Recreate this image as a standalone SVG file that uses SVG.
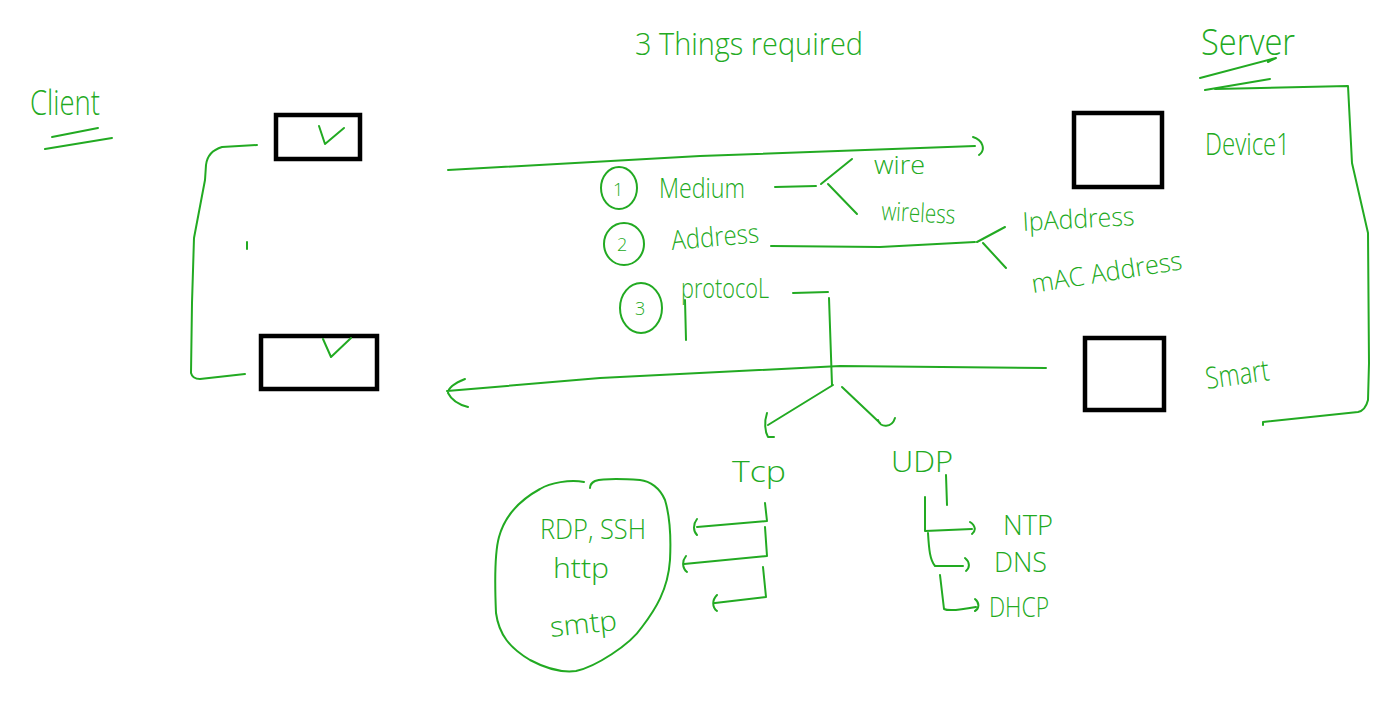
<svg xmlns="http://www.w3.org/2000/svg" width="1399" height="723" viewBox="0 0 1399 723">
<style>
.g{fill:none;stroke:#22aa22;stroke-width:2;stroke-linecap:round;stroke-linejoin:round}
.box{fill:#fff;stroke:#000;stroke-width:4.5}
.t{fill:#22aa22;font-family:"Open Sans","Liberation Sans",sans-serif;font-weight:300}
</style>
<rect width="1399" height="723" fill="#fff"/>
<g id="title"><text class="t" x="635" y="55" font-size="32" textLength="228" lengthAdjust="spacingAndGlyphs">3 Things required</text></g>
<g id="client">
<text class="t" x="30" y="115" font-size="34" textLength="70" lengthAdjust="spacingAndGlyphs">Client</text>
<path class="g" d="M52 137 L98 128 M45 149 L112 138"/>
</g>
<g id="client-box1"><rect class="box" x="276" y="115" width="84" height="44"/><path class="g" d="M319 126 L325 144 L344 128"/></g>
<g id="client-box2"><rect class="box" x="261" y="336" width="116" height="53"/><path class="g" d="M323 339 L331 357 L351 338"/></g>
<g id="server">
<text class="t" x="1201" y="55" font-size="36" textLength="94" lengthAdjust="spacingAndGlyphs">Server</text>
<path class="g" d="M1200 78 L1276 58 L1268 62 M1205 90 L1270 79"/>
</g>
<g id="device1"><rect class="box" x="1074" y="113" width="88" height="74"/><text class="t" x="1205" y="155" font-size="32" textLength="85" lengthAdjust="spacingAndGlyphs">Device1</text></g>
<g id="smart"><rect class="box" x="1085" y="338" width="79" height="72"/><text class="t" x="1207" y="389" font-size="30" textLength="64" lengthAdjust="spacingAndGlyphs" transform="rotate(-8 1207 389)">Smart</text></g>
<g id="medium">
<ellipse class="g" cx="619" cy="188" rx="18" ry="21"/>
<text class="t" x="613" y="196" font-size="18">1</text>
<text class="t" x="659" y="198" font-size="27" textLength="86" lengthAdjust="spacingAndGlyphs">Medium</text>
<text class="t" x="874" y="174" font-size="26" textLength="51" lengthAdjust="spacingAndGlyphs">wire</text>
<text class="t" x="881" y="220" font-size="26" textLength="74" lengthAdjust="spacingAndGlyphs" transform="rotate(3 881 220)">wireless</text>
</g>
<g id="address">
<ellipse class="g" cx="624" cy="244" rx="20" ry="21"/>
<text class="t" x="617" y="251" font-size="18">2</text>
<text class="t" x="672" y="250" font-size="27" textLength="88" lengthAdjust="spacingAndGlyphs" transform="rotate(-5 672 250)">Address</text>
<text class="t" x="1023" y="231" font-size="26" textLength="112" lengthAdjust="spacingAndGlyphs" transform="rotate(-3 1023 231)">IpAddress</text>
<text class="t" x="1033" y="293" font-size="26" textLength="152" lengthAdjust="spacingAndGlyphs" transform="rotate(-9 1033 293)">mAC Address</text>
</g>
<g id="protocol">
<ellipse class="g" cx="641" cy="308" rx="21" ry="25"/>
<text class="t" x="635" y="315" font-size="18">3</text>
<text class="t" x="681" y="298" font-size="27" textLength="88" lengthAdjust="spacingAndGlyphs">protocoL</text>
<path class="g" d="M685 300 L686 340"/>
</g>
<g id="tcp"><text class="t" x="732" y="482" font-size="30" textLength="54" lengthAdjust="spacingAndGlyphs">Tcp</text></g>
<g id="udp"><text class="t" x="891" y="472" font-size="30" textLength="62" lengthAdjust="spacingAndGlyphs">UDP</text></g>
<g id="tcp-apps">
<path class="g" d="M584 482 C570 479 550 483 540 489 C520 500 505 515 499 537 C494 555 495 590 496 613 C499 635 510 648 530 660 C545 668 560 673 576 671 C595 667 630 645 642 627 C655 610 668 590 670 560 C671 540 671 520 665 500 C660 488 650 481 640 480 C625 479 605 478 595 481 C591 483 590 485 590 488"/>
<text class="t" x="540" y="539" font-size="28" textLength="106" lengthAdjust="spacingAndGlyphs">RDP, SSH</text>
<text class="t" x="553" y="578" font-size="28" textLength="56" lengthAdjust="spacingAndGlyphs">http</text>
<text class="t" x="551" y="637" font-size="28" textLength="67" lengthAdjust="spacingAndGlyphs" transform="rotate(-6 551 637)">smtp</text>
</g>
<g id="udp-apps">
<text class="t" x="1003" y="535" font-size="28" textLength="50" lengthAdjust="spacingAndGlyphs">NTP</text>
<text class="t" x="994" y="572" font-size="28" textLength="53" lengthAdjust="spacingAndGlyphs">DNS</text>
<text class="t" x="989" y="617" font-size="28" textLength="60" lengthAdjust="spacingAndGlyphs">DHCP</text>
</g>
<g id="connectors">
<path class="g" d="M257 145 L222 147 C212 150 207 156 206 165 L205 180 L194 238 L192 303 L191 373 C192 377 195 379 200 379 L245 374"/>
<path class="g" d="M247 242 L247 249"/>
<path class="g" d="M448 170 L700 156 L975 146 M973 137 C983 140 986 150 979 155"/>
<path class="g" d="M1046 368 L840 366 L600 378 L447 391 M465 379 C455 383 448 388 448 393 C452 401 460 405 468 407"/>
<path class="g" d="M775 187 L816 186 M852 159 L821 184 M828 184 L857 214"/>
<path class="g" d="M771 246 L880 247 L975 242 M1005 227 L977 242 M983 243 L1006 268"/>
<path class="g" d="M793 293 L828 292 M829 298 L832 385 M833 385 L768 425 M767 413 C764 422 765 432 768 437 L774 437 M842 387 L880 423 M878 420 C880 428 892 428 895 418"/>
<path class="g" d="M765 503 L767 521 L697 527 M697 519 C693 524 693 531 697 535 M765 527 L767 556 L684 564 M686 556 C682 561 682 568 687 572 M763 567 L766 597 L715 603 M717 595 C712 600 712 607 717 611"/>
<path class="g" d="M1215 89 L1348 86 L1352 163 L1368 233 L1369 363 L1368 400 C1366 408 1363 411 1358 412 L1263 422 L1263 425"/>
<path class="g" d="M925 497 L925 531 L972 529 M970 522 C976 526 976 531 972 534 M928 533 C929 550 930 560 935 566 L963 566 M965 558 C970 562 970 568 966 571 M940 575 L944 609 C948 611 960 610 976 607 M975 599 C980 603 979 609 975 611"/>
<path class="g" d="M946 475 L947 505"/>
</g>
</svg>
